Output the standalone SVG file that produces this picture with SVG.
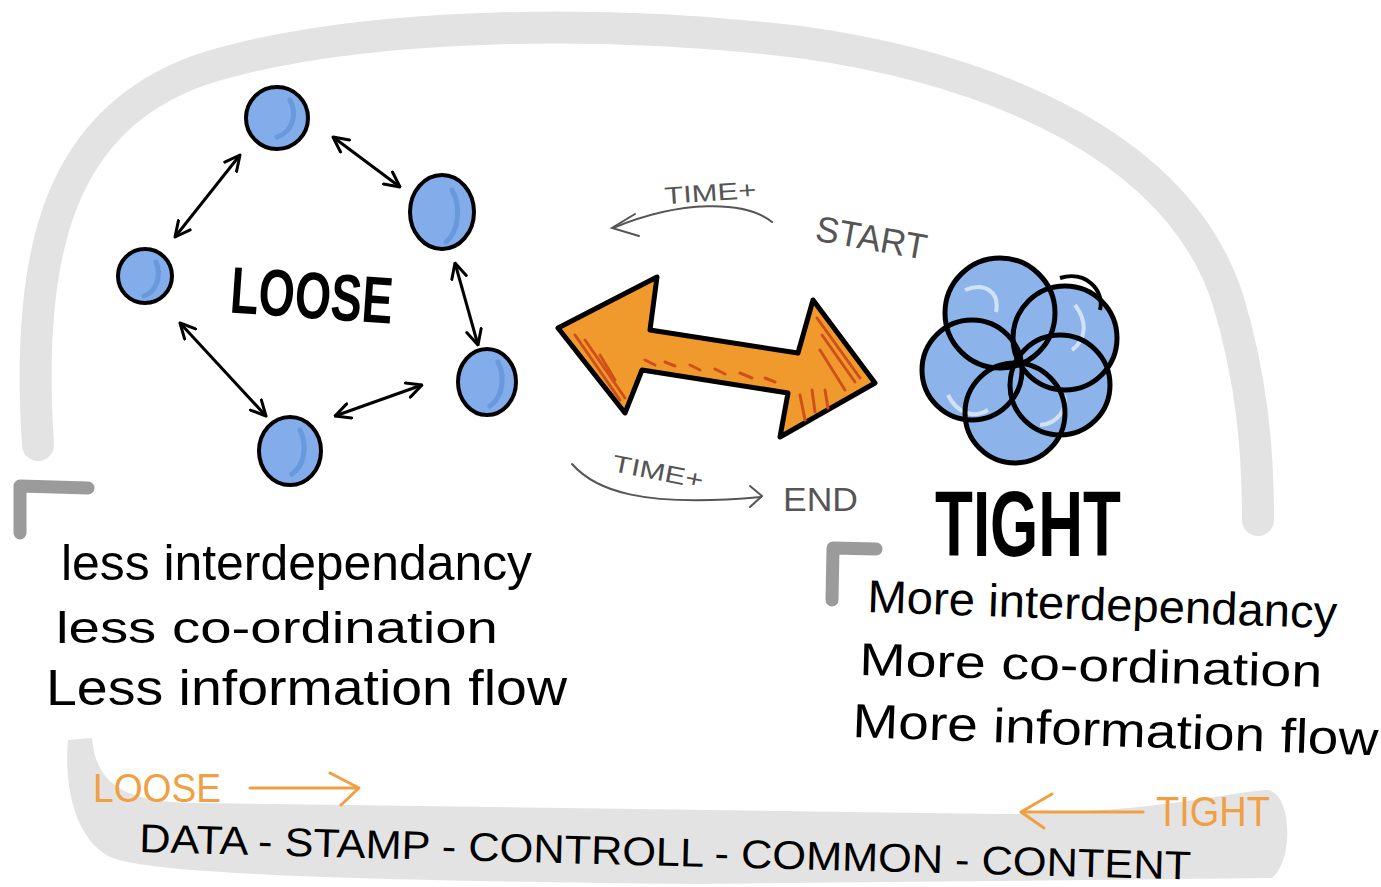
<svg xmlns="http://www.w3.org/2000/svg" width="1381" height="887" viewBox="0 0 1381 887">
<defs>
<style>
.band{fill:none;stroke:#e3e3e3;stroke-linecap:round;stroke-linejoin:round}
.mark{fill:none;stroke:#9b9b9b;stroke-width:13;stroke-linecap:round;stroke-linejoin:round}
.node{fill:#82adea;stroke:#000;stroke-width:4}
.shade{fill:none;stroke:#5f8fd6;stroke-width:5;stroke-linecap:round;opacity:.7}
.link{fill:none;stroke:#000;stroke-width:3;marker-start:url(#ah);marker-end:url(#ah)}
.thin{fill:none;stroke:#555;stroke-width:2;stroke-linecap:round}
.ora{fill:none;stroke:#f0a043;stroke-width:3;stroke-linecap:round;stroke-linejoin:round}
.hw{font-family:"Liberation Sans",Arial,sans-serif;fill:#000}
.grey{font-family:"Liberation Sans",Arial,sans-serif;fill:#555}
.petal{fill:none;stroke:#000;stroke-width:5}
.pfill{fill:#8db4ea}
.hatch{stroke:#d0501c;stroke-width:3;stroke-linecap:round}
</style>
<marker id="ah" viewBox="0 0 12 12" refX="11" refY="6" markerWidth="6" markerHeight="6" orient="auto-start-reverse" markerUnits="strokeWidth">
<path d="M1,1 L11,6 L1,11" fill="none" stroke="#000" stroke-width="2" stroke-linecap="round" stroke-linejoin="round"/>
</marker>
</defs>
<rect width="1381" height="887" fill="#fff"/>

<g id="frame">
<path class="band" stroke-width="32" d="M38,445 C25,250 60,120 200,70 C350,22 600,18 800,42 C1000,70 1180,150 1228,300 C1252,380 1258,450 1258,520"/>
<path fill="#e3e3e3" d="M68,740 L92,738 C96,788 130,803 200,803 L1000,814 C1150,814 1240,790 1268,790 C1292,794 1294,860 1272,878 L700,884 C300,880 140,872 108,856 C74,836 64,785 68,740 Z"/>
<path class="mark" d="M20,533 L20,486 L88,488"/>
<path class="mark" d="M832,600 L833,548 L876,549"/>
</g>

<g id="connectors">
<line class="link" x1="175" y1="237" x2="240" y2="155"/>
<line class="link" x1="333" y1="137" x2="400" y2="187"/>
<line class="link" x1="455" y1="263" x2="478" y2="345"/>
<line class="link" x1="335" y1="416" x2="422" y2="385"/>
<line class="link" x1="180" y1="323" x2="266" y2="416"/>
</g>

<g id="node-top">
<circle class="node" cx="277" cy="118" r="31"/>
<path class="shade" d="M290,100 C298,115 292,132 277,137"/>
</g>
<g id="node-right-upper">
<ellipse class="node" cx="442" cy="212" rx="32" ry="37"/>
<path class="shade" d="M452,190 C462,208 458,232 446,242"/>
</g>
<g id="node-left">
<circle class="node" cx="145" cy="276" r="27"/>
<path class="shade" d="M156,262 C162,276 156,292 144,296"/>
</g>
<g id="node-right-lower">
<ellipse class="node" cx="487" cy="382" rx="29" ry="33"/>
<path class="shade" d="M498,362 C506,378 502,398 490,406"/>
</g>
<g id="node-bottom">
<ellipse class="node" cx="290" cy="451" rx="31" ry="34"/>
<path class="shade" d="M300,430 C308,446 304,466 292,474"/>
</g>
<g id="label-loose">
<text class="hw" x="230" y="318" font-size="66" font-weight="900" textLength="163" lengthAdjust="spacingAndGlyphs" transform="rotate(4 310 300)">LOOSE</text>
</g>

<g id="orange-arrow">
<path d="M558,328 L657,277 L650,330 L798,353 L813,300 L875,383 L780,437 L788,393 L642,370 L625,413 Z" fill="#f09a2e" stroke="#000" stroke-width="5" stroke-linejoin="round"/>
<g class="hatch">
<line x1="575" y1="335" x2="620" y2="400"/>
<line x1="585" y1="340" x2="625" y2="398"/>
<line x1="600" y1="355" x2="615" y2="380"/>
<line x1="645" y1="360" x2="655" y2="365"/>
<line x1="665" y1="362" x2="675" y2="366"/>
<line x1="690" y1="365" x2="700" y2="370"/>
<line x1="715" y1="369" x2="725" y2="374"/>
<line x1="740" y1="373" x2="752" y2="378"/>
<line x1="765" y1="378" x2="775" y2="382"/>
<line x1="817" y1="318" x2="860" y2="378"/>
<line x1="822" y1="335" x2="855" y2="382"/>
<line x1="820" y1="350" x2="845" y2="390"/>
<line x1="800" y1="395" x2="805" y2="420"/>
<line x1="812" y1="390" x2="815" y2="412"/>
<line x1="825" y1="390" x2="828" y2="408"/>
</g>
</g>

<g id="time-top">
<text class="grey" x="664" y="201" font-size="24" textLength="92" lengthAdjust="spacingAndGlyphs" transform="rotate(-4 710 190)">TIME+</text>
<path class="thin" d="M772,222 C745,200 680,200 613,228"/>
<path class="thin" d="M635,214 L612,228 L639,236"/>
</g>
<g id="label-start">
<text class="grey" x="815" y="250" font-size="36" textLength="112" lengthAdjust="spacingAndGlyphs" transform="rotate(10 870 240)">START</text>
</g>
<g id="time-bottom">
<text class="grey" x="612" y="480" font-size="24" textLength="92" lengthAdjust="spacingAndGlyphs" transform="rotate(11 658 472)">TIME+</text>
<path class="thin" d="M572,464 C595,490 640,508 761,497"/>
<path class="thin" d="M750,486 L762,496 L750,507"/>
</g>
<g id="label-end">
<text class="grey" x="783" y="511" font-size="34" textLength="75" lengthAdjust="spacingAndGlyphs">END</text>
</g>

<g id="node-tight">
<circle class="pfill" cx="1000" cy="313" r="55"/>
<circle class="pfill" cx="1065" cy="338" r="52"/>
<circle class="pfill" cx="972" cy="370" r="50"/>
<circle class="pfill" cx="1015" cy="413" r="50"/>
<circle class="pfill" cx="1060" cy="385" r="50"/>
<path d="M965,290 C985,282 1000,292 996,312 M1075,305 C1088,322 1086,340 1072,350 M948,395 C958,415 975,418 988,410 M1040,425 C1058,424 1068,408 1064,395" fill="none" stroke="#fff" stroke-width="4" opacity=".6"/>
<circle class="petal" cx="1000" cy="313" r="55"/>
<circle class="petal" cx="1065" cy="338" r="52"/>
<circle class="petal" cx="972" cy="370" r="50"/>
<circle class="petal" cx="1015" cy="413" r="50"/>
<circle class="petal" cx="1060" cy="385" r="50"/>
<path d="M1060,278 C1085,270 1105,290 1100,310" fill="none" stroke="#000" stroke-width="4"/>
</g>
<g id="label-tight">
<text class="hw" x="935" y="556" font-size="92" font-weight="900" textLength="186" lengthAdjust="spacingAndGlyphs">TIGHT</text>
</g>

<g id="text-loose">
<text class="hw" x="61" y="580" font-size="50" textLength="471" lengthAdjust="spacingAndGlyphs">less interdependancy</text>
<text class="hw" x="56" y="643" font-size="44" textLength="442" lengthAdjust="spacingAndGlyphs">less co-ordination</text>
<text class="hw" x="46" y="705" font-size="50" textLength="521" lengthAdjust="spacingAndGlyphs">Less information flow</text>
</g>
<g id="text-tight">
<text class="hw" x="867" y="612" font-size="46" textLength="470" lengthAdjust="spacingAndGlyphs" transform="rotate(2 867 612)">More interdependancy</text>
<text class="hw" x="859" y="675" font-size="46" textLength="463" lengthAdjust="spacingAndGlyphs" transform="rotate(1.5 859 675)">More co-ordination</text>
<text class="hw" x="852" y="737" font-size="48" textLength="526" lengthAdjust="spacingAndGlyphs" transform="rotate(2 852 737)">More information flow</text>
</g>

<g id="scale">
<text x="93" y="802" font-family="Liberation Sans, Arial, sans-serif" font-size="40" fill="#f0a043" textLength="128" lengthAdjust="spacingAndGlyphs">LOOSE</text>
<path class="ora" d="M250,788 L358,788 M330,773 L359,788 L341,805"/>
<text x="1156" y="826" font-family="Liberation Sans, Arial, sans-serif" font-size="42" fill="#f0a043" textLength="114" lengthAdjust="spacingAndGlyphs">TIGHT</text>
<path class="ora" d="M1143,812 L1021,812 M1052,794 L1021,812 L1044,828"/>
<text class="hw" x="139" y="852" font-size="40" textLength="1052" lengthAdjust="spacingAndGlyphs" transform="rotate(1.5 139 852)">DATA - STAMP - CONTROLL - COMMON - CONTENT</text>
</g>
</svg>
